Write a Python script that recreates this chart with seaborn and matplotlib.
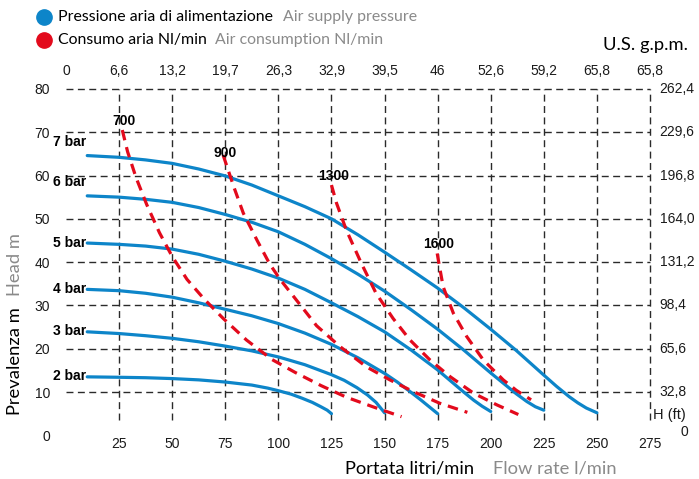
import matplotlib
matplotlib.use('Agg')
import matplotlib.pyplot as plt
import seaborn as sns
import pandas as pd
from matplotlib.lines import Line2D

# --- data (flow l/min, head m) ---
bar_names = ['7 bar', '6 bar', '5 bar', '4 bar', '3 bar', '2 bar']
q_7bar = [10, 25, 37.5, 50, 62.5, 75, 87.5, 100, 112.5, 125, 137.5, 150, 162.5, 175, 187.5, 200, 212, 225,
          231, 237, 241, 245, 250]
h_7bar = [64.6, 64.2, 63.6, 62.8, 61.5, 59.9, 57.8, 55.3, 52.8, 50.0, 46.3, 42.3, 38.2, 34.0, 29.4, 24.5, 19.6,
          13.9, 11.3, 8.9, 7.5, 6.3, 5.2]
q_6bar = [10, 25, 37.5, 50, 62.5, 75, 87.5, 100, 112.5, 125, 137.5, 150, 162.5, 175, 187.5, 200, 206, 212,
          217, 221, 225]
h_6bar = [55.3, 55.0, 54.5, 53.8, 52.6, 51.0, 49.2, 47.0, 44.1, 40.8, 37.2, 33.3, 29.0, 24.5, 19.6, 14.4, 12.0,
          9.6, 7.8, 6.6, 5.8]
q_5bar = [10, 25, 37.5, 50, 62.5, 75, 87.5, 100, 112.5, 125, 137.5, 150, 162.5, 175, 181, 187, 192, 196, 200]
h_5bar = [44.4, 44.1, 43.7, 43.0, 41.8, 40.2, 38.4, 36.3, 33.7, 30.6, 27.4, 23.9, 19.7, 15.1, 12.6, 10.1, 8.1,
          6.7, 5.5]
q_4bar = [10, 25, 37.5, 50, 62.5, 75, 87.5, 100, 112.5, 125, 137.5, 150, 156, 162, 167, 171, 175]
h_4bar = [33.7, 33.4, 32.8, 31.9, 30.6, 29.1, 27.6, 25.8, 23.6, 21.0, 17.9, 14.3, 12.3, 10.1, 8.2, 6.6, 5.0]
q_3bar = [10, 25, 37.5, 50, 62.5, 75, 87.5, 100, 112.5, 125, 131, 137, 142, 146, 150]
h_3bar = [23.9, 23.5, 23.0, 22.4, 21.6, 20.6, 19.5, 18.1, 16.3, 14.0, 12.7, 11.0, 9.3, 7.6, 5.2]
q_2bar = [10, 25, 37.5, 50, 62.5, 75, 87.5, 95, 100, 106, 111, 116, 120, 123, 125]
h_2bar = [13.5, 13.4, 13.3, 13.1, 12.8, 12.3, 11.6, 10.9, 10.3, 9.5, 8.6, 7.6, 6.6, 5.8, 5.0]

# air consumption Nl/min
air_names = ['700', '900', '1300', '1600']
q_700 = [26.5, 29, 33, 38, 44, 50, 57, 65, 74, 85, 97, 108, 120, 132, 145, 158]
h_700 = [70.5, 65.5, 59.5, 53.3, 46.8, 41.3, 36.0, 31.5, 27.0, 22.0, 17.5, 14.5, 11.5, 8.8, 6.5, 4.3]
q_900 = [74, 79, 83.5, 90, 96, 101, 110, 118, 129, 141.5, 152.5, 163.5, 176, 189]
h_900 = [64.7, 57.4, 51.3, 45.0, 39.5, 35.9, 30.3, 25.3, 20.5, 15.8, 12.8, 10.1, 7.4, 5.3]
q_1300 = [125, 127.4, 132, 139, 146, 154, 162, 171.4, 181, 192, 203, 213]
h_1300 = [57.8, 53.6, 47.4, 39.8, 32.8, 27.0, 22.0, 17.4, 13.5, 9.7, 7.0, 4.8]
q_1600 = [174.8, 175.5, 177.6, 182.4, 188.7, 196.5, 205.9, 212, 219]
h_1600 = [42.0, 40.0, 34.3, 28.2, 22.8, 17.4, 12.8, 10.4, 8.2]

flow_ticks = [25, 50, 75, 100, 125, 150, 175, 200, 225, 250, 275]
head_ticks = [0, 10, 20, 30, 40, 50, 60, 70, 80]
gpm_labels = ['0', '6,6', '13,2', '19,7', '26,3', '32,9', '39,5', '46', '52,6', '59,2', '65,8', '65,8']
ft_labels = ['32,8', '65,6', '98,4', '131,2', '164,0', '196,8', '229,6', '262,4']

pressure_curves = list(zip(bar_names, [q_7bar, q_6bar, q_5bar, q_4bar, q_3bar, q_2bar],
                           [h_7bar, h_6bar, h_5bar, h_4bar, h_3bar, h_2bar]))
air_curves = list(zip(air_names, [q_700, q_900, q_1300, q_1600], [h_700, h_900, h_1300, h_1600]))

df_pressure = pd.concat([pd.DataFrame({'pressure': n, 'flow': q, 'head': h}) for n, q, h in pressure_curves])

BLUE = '#0d85c9'
RED = '#e30a1c'
GREY = '#8a8a8a'
GRID = '#2a2a2a'
INK = '#1a1a1a'
num_font = 'Liberation Sans'
txt_font = 'Lato'

sns.set_style('white')
plt.rcParams['font.family'] = [num_font, 'DejaVu Sans']

fig = plt.figure(figsize=(6.99, 4.79), dpi=100)
ax = fig.add_axes([66 / 699, 1 - 435.3 / 479, 584 / 699, 346.4 / 479])

# pressure curves
sns.lineplot(data=df_pressure, x='flow', y='head', units='pressure', estimator=None, sort=False,
             color=BLUE, lw=2.3, ax=ax, zorder=3)
for name, q, h in pressure_curves:
    dy = 3.2 if name in ('7 bar', '6 bar') else 0.1
    ax.text(q[0] - 0.4, h[0] + dy, name, ha='right', va='center', fontsize=10,
            fontweight='bold', color='black')

# air consumption curves
for name, q, h in air_curves:
    sns.lineplot(x=q, y=h, estimator=None, sort=False, color=RED, lw=2.3,
                 linestyle=(0, (3.3, 2.2)), ax=ax, zorder=4)
    dy = 0.6 if name == '900' else 2.1
    ax.text(q[0] + 0.8, h[0] + dy, name, ha='center', va='center', fontsize=10,
            fontweight='bold', color='black', zorder=5)

ax.set_xlim(0, 275)
ax.set_ylim(0, 80)
sns.despine(ax=ax, left=True, bottom=True)
ax.set_xlabel('')
ax.set_ylabel('')
ax.set_xticks(flow_ticks)
ax.set_yticks(head_ticks)
ax.tick_params(axis='x', length=0, pad=1.5, labelsize=10, labelcolor=INK)
ax.tick_params(axis='y', length=0, pad=11.5, labelsize=10, labelcolor=INK)

# dashed grid, drawn after the curves but kept underneath them
for y in head_ticks[1:]:
    ax.plot([0, 275], [y, y], color=GRID, lw=1.0, dashes=(5, 3.2), zorder=2.5, clip_on=False)
for x in flow_ticks:
    ax.plot([x, x], [3.5, 80], color=GRID, lw=1.0, dashes=(5, 3.2), zorder=2.5, clip_on=False)

# U.S. g.p.m. scale on top, feet scale on the right
for x, lbl in zip([0] + flow_ticks, gpm_labels):
    ax.annotate(lbl, (x, 80), xytext=(0, 8), textcoords='offset points', ha='center', va='bottom',
                fontsize=10, color=INK, annotation_clip=False)
for y, lbl in zip(head_ticks[1:], ft_labels):
    ax.annotate(lbl, (275, y), xytext=(7, 0), textcoords='offset points', ha='left', va='center',
                fontsize=10, color=INK, annotation_clip=False)
ax.text(276.4, 4.7, 'H (ft)', ha='left', va='center', fontsize=10.5, color=INK)
ax.text(293, 0.8, '0', ha='right', va='center', fontsize=10, color=INK, clip_on=False)

# axis titles (two languages)
fig.text(345 / 699, 1 - 468 / 479, 'Portata litri/min', fontsize=13.2, family=txt_font, color='black',
         ha='left', va='center')
fig.text(493 / 699, 1 - 468 / 479, 'Flow rate l/min', fontsize=13.2, family=txt_font, color=GREY,
         ha='left', va='center')
ylab = fig.text(15 / 699, 1 - 415 / 479, 'Prevalenza m', fontsize=13.2, family=txt_font, color='black',
                rotation=90, ha='center', va='bottom')
fig.canvas.draw()
top_px = ylab.get_window_extent().y1
fig.text(15 / 699, (top_px + 11) / 479, 'Head m', fontsize=13.2, family=txt_font, color=GREY,
         rotation=90, ha='center', va='bottom')
fig.text(688 / 699, 1 - 45 / 479, 'U.S. g.p.m.', fontsize=13.2, family=txt_font, color='black',
         ha='right', va='center')

# legend at the top
for ypx, col, black, grey, gx in [(17, BLUE, 'Pressione aria di alimentazione', 'Air supply pressure', 283),
                                  (40, RED, 'Consumo aria Nl/min', 'Air consumption Nl/min', 215)]:
    fig.add_artist(Line2D([44 / 699], [1 - ypx / 479], marker='o', markersize=11, color=col,
                          transform=fig.transFigure))
    fig.text(58 / 699, 1 - ypx / 479, black, fontsize=11.4, family=txt_font, color='black', va='center')
    fig.text(gx / 699, 1 - ypx / 479, grey, fontsize=11.4, family=txt_font, color=GREY, va='center')

plt.savefig('out.png', dpi=100)
